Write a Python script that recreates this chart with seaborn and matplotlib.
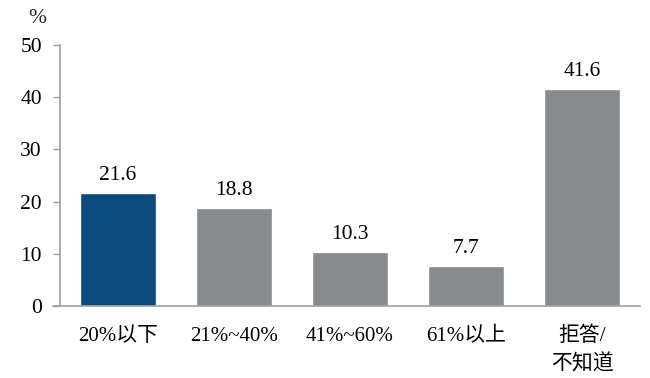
import matplotlib
matplotlib.use("Agg")
import matplotlib.pyplot as plt
import pandas as pd
import seaborn as sns

categories = ["20%以下", "21%~40%", "41%~60%", "61%以上", "拒答/\n不知道"]
values = [21.6, 18.8, 10.3, 7.7, 41.6]
bar_colors = ["#0b4a7d", "#878b8e", "#878b8e", "#878b8e", "#878b8e"]
y_ticks = [0, 10, 20, 30, 40, 50]

sns.set_theme(style="white")
plt.rcParams["font.family"] = ["Liberation Serif", "Noto Sans CJK SC", "DejaVu Sans"]

df = pd.DataFrame({"cat": categories, "val": values})

fig = plt.figure(figsize=(6.5, 3.78), dpi=100)
ax = fig.add_axes([0.0923, 0.1905, 0.8923, 0.6905])

sns.barplot(data=df, x="cat", y="val", hue="cat", palette=bar_colors,
            width=0.66, legend=False, ax=ax, saturation=1)

for i, v in enumerate(values):
    ax.text(i, v + 1.5, f"{v:.1f}", ha="center", va="bottom", fontsize=15.5, color="black")

ax.set_xlim(-0.5, 4.5)
ax.set_ylim(0, 50)
ax.set_yticks(y_ticks)
ax.set_xlabel("")
ax.set_ylabel("")
ax.tick_params(axis="y", which="both", left=True, length=5, width=1, color="#a0a0a0",
               labelsize=15.5, pad=8, labelcolor="black")
ax.tick_params(axis="x", bottom=False, labelsize=15, pad=9, labelcolor="black")
for lbl in ax.get_xticklabels():
    lbl.set_linespacing(1.5)

for side in ["top", "right"]:
    ax.spines[side].set_visible(False)
for side in ["left", "bottom"]:
    ax.spines[side].set_color("#a0a0a0")
    ax.spines[side].set_linewidth(1.2)
ax.spines["bottom"].set_bounds(-0.56, 4.5)

fig.text(0.058, 0.925, "%", fontsize=15.5, ha="center", va="bottom")

fig.savefig("out.png", dpi=100)
